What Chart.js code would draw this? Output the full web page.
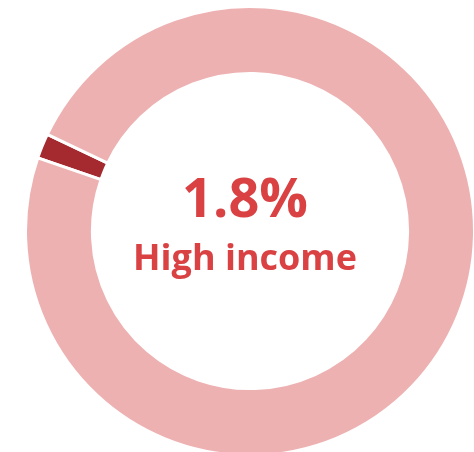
<!DOCTYPE html>
<html>
<head>
<meta charset="utf-8">
<script src="https://cdn.jsdelivr.net/npm/chart.js@4"></script>
<style>
  html, body { margin: 0; padding: 0; background: #fff; overflow: hidden; }
  body { width: 474px; height: 452px; position: relative; }
  #wrap { position: absolute; }
</style>
</head>
<body>
<div id="wrap"><canvas id="chart"></canvas></div>
<script>
// ============================
// DATA
// ============================
const labels = ["High income", "Rest"];
const values = [1.8, 98.2];
const colors = ["#a52a2f", "#eeb1b2"];
const centerLabel = "High income";

// ============================
// LAYOUT
// ============================
const BORDER = 3;
const SIZE = 446 + 2 * BORDER;
const CX = 250, CY = 231;
const wrap = document.getElementById("wrap");
wrap.style.left = (CX - SIZE / 2) + "px";
wrap.style.top = (CY - SIZE / 2) + "px";
wrap.style.width = SIZE + "px";
wrap.style.height = SIZE + "px";

// center text
const centerText = {
  id: "centerText",
  afterDraw(chart) {
    const ctx = chart.ctx;
    const meta = chart.getDatasetMeta(0).data[0];
    const x = meta.x - 5;
    const y = meta.y;
    ctx.save();
    ctx.fillStyle = "#d94143";
    ctx.textAlign = "center";
    ctx.textBaseline = "alphabetic";
    ctx.font = "bold 54px 'Open Sans'";
    ctx.fillText(values[0] + "%", x, y - 14);
    ctx.font = "bold 36px 'Open Sans'";
    ctx.fillText(centerLabel, x, y + 39);
    ctx.restore();
  }
};

new Chart(document.getElementById("chart"), {
  type: "doughnut",
  data: {
    labels: labels,
    datasets: [{
      data: values,
      backgroundColor: colors,
      borderColor: "#ffffff",
      borderWidth: BORDER
    }]
  },
  options: {
    responsive: true,
    maintainAspectRatio: false,
    animation: false,
    cutout: "70.2%",
    rotation: 289,
    plugins: {
      legend: { display: false },
      tooltip: { enabled: false }
    }
  },
  plugins: [centerText]
});
</script>
</body>
</html>
